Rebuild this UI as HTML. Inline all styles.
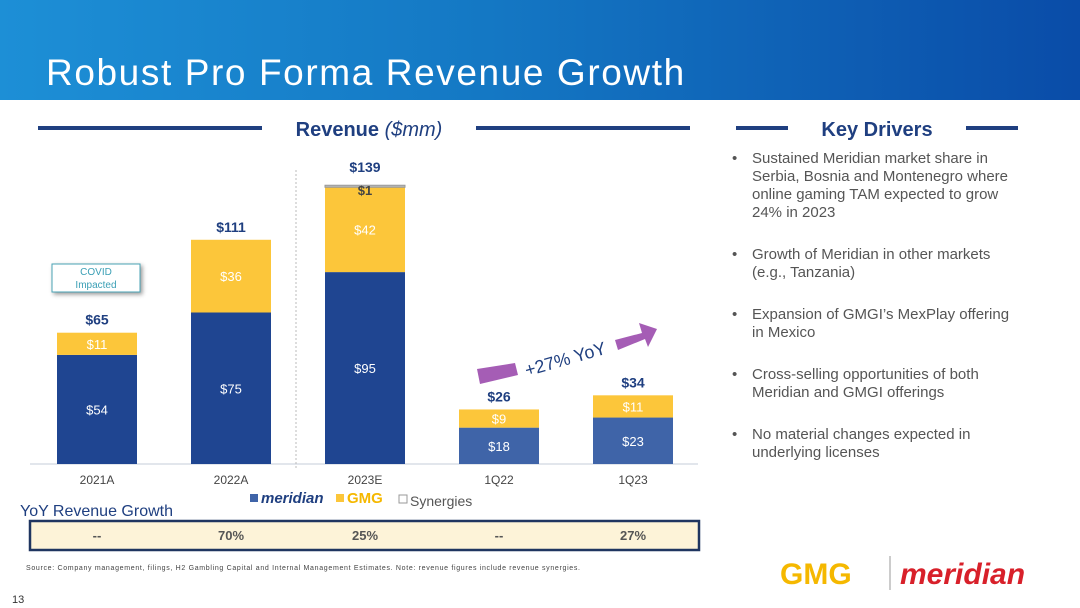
<!DOCTYPE html>
<html><head><meta charset="utf-8"><style>
body{margin:0;width:1080px;height:608px;overflow:hidden;background:#fff;font-family:"Liberation Sans",sans-serif;position:relative}
.hdr{position:absolute;left:0;top:0;width:1080px;height:100px;background:linear-gradient(90deg,#1d8fd6 0%,#1478c4 45%,#0a4ca8 100%)}
.title{position:absolute;left:46px;top:52px;color:#fff;font-size:37px;letter-spacing:1.6px}
.kd{position:absolute;left:732px;top:150px;width:292px;color:#555;font-size:15px;line-height:18px}
.kd div{position:relative;padding-left:20px;margin-bottom:24px}
.kd div:before{content:"•";position:absolute;left:0;top:0}
</style></head><body>
<div class="hdr"></div>
<div class="title">Robust Pro Forma Revenue Growth</div>
<div class="kd">
<div>Sustained Meridian market share in Serbia, Bosnia and Montenegro where online gaming TAM expected to grow 24% in 2023</div>
<div>Growth of Meridian in other markets (e.g., Tanzania)</div>
<div>Expansion of GMGI’s MexPlay offering in Mexico</div>
<div>Cross-selling opportunities of both Meridian and GMGI offerings</div>
<div>No material changes expected in underlying licenses</div>
</div>
<svg id="c" width="1080" height="608" style="position:absolute;left:0;top:0" font-family="Liberation Sans, sans-serif">
<g>
<rect x="38" y="126" width="224" height="4" fill="#1f3f80"/><rect x="476" y="126" width="214" height="4" fill="#1f3f80"/>
<text x="369" y="136" text-anchor="middle" font-size="20" font-weight="bold" fill="#1f3f80">Revenue <tspan font-style="italic" font-weight="normal">($mm)</tspan></text></g>
<g>
<rect x="736" y="126" width="52" height="4" fill="#1f3f80"/><rect x="966" y="126" width="52" height="4" fill="#1f3f80"/>
<text x="877" y="136" text-anchor="middle" font-size="20" font-weight="bold" fill="#1f3f80">Key Drivers</text></g>
<line x1="30" y1="464" x2="698" y2="464" stroke="#d8dde6" stroke-width="1.5"/>
<line x1="296" y1="170" x2="296" y2="470" stroke="#bbb" stroke-dasharray="2,2"/>
<g id="bars"></g>
<g>
<rect x="52" y="264" width="88" height="28" fill="#fff" stroke="#4aa3b5" style="filter:drop-shadow(2px 2px 2px #999)"/>
<text x="96" y="275" text-anchor="middle" font-size="10" fill="#3a9fb5">COVID</text>
<text x="96" y="288" text-anchor="middle" font-size="10" fill="#3a9fb5">Impacted</text></g>
<g>
<polygon points="477,369 515,363 518,375 480,384" fill="#a55db5"/>
<polygon points="615,340 642,333 639,323 657,329 648,347 645,339 618,350" fill="#a55db5"/>
<text x="567" y="365" transform="rotate(-16 567 365)" text-anchor="middle" font-size="18" fill="#1f3f80">+27% YoY</text></g>
<g>
<rect x="250" y="494" width="8" height="8" fill="#3f64a8"/><text x="261" y="503" font-size="15" font-weight="bold" font-style="italic" fill="#1f3f80">meridian</text>
<rect x="336" y="494" width="8" height="8" fill="#fcc63a"/><text x="347" y="503" font-size="15" font-weight="bold" fill="#f5b800">GMG</text>
<rect x="399" y="495" width="8" height="8" fill="#fff" stroke="#999"/><text x="410" y="506" font-size="14" fill="#555">Synergies</text></g>
<text x="20" y="516" font-size="16" fill="#1f3f80">YoY Revenue Growth</text>
<rect x="30" y="521" width="669" height="29" fill="#fdf3d8" stroke="#1f3560" stroke-width="2.5"/>
<g id="yoy"></g>
<text x="26" y="570" font-size="7" fill="#444" textLength="554">Source: Company management, filings, H2 Gambling Capital and Internal Management Estimates. Note: revenue figures include revenue synergies.</text>
<text x="12" y="603" font-size="11" fill="#333">13</text>
<g>
<text x="780" y="584" font-size="30" font-weight="bold" fill="#f5b800">GMG</text>
<line x1="890" y1="556" x2="890" y2="590" stroke="#999"/>
<text x="900" y="584" font-size="30" font-weight="bold" font-style="italic" fill="#d8202a">meridian</text></g>
</svg>
<script>
const categories=["2021A","2022A","2023E","1Q22","1Q23"];
const meridian=[54,75,95,18,23];
const gmg=[11,36,42,9,11];
const synergies=[0,0,1,0,0];
const totals=["$65","$111","$139","$26","$34"];
const yoyLabels=["--","70%","25%","--","27%"];
const base=464,k=2.02,bw=80;
const xc=i=>97+i*134;
const yv=v=>base-v*k;
const g=document.getElementById('bars'),NS="http://www.w3.org/2000/svg";
function mk(t,a,txt){const e=document.createElementNS(NS,t);for(const n in a)e.setAttribute(n,a[n]);if(txt!=null)e.textContent=txt;g.appendChild(e);return e;}
categories.forEach((c,i)=>{
 const q=i>=3;
 const m=meridian[i],y=gmg[i],s=synergies[i];
 let r=mk('rect',{x:xc(i)-bw/2,y:yv(m),width:bw,height:m*k,fill:q?'#3f64a8':'#1f4591'});
 
 
 r=mk('rect',{x:xc(i)-bw/2,y:yv(m+y),width:bw,height:y*k,fill:'#fcc63a'});
 
 
 if(s>0){r=mk('rect',{x:xc(i)-bw/2,y:yv(m+y+s),width:bw,height:s*k,fill:'#bbb',stroke:'#999'});
 
 
 mk('text',{x:xc(i),y:yv(m+y+s)+10,'text-anchor':'middle','font-size':13,'font-weight':'bold',fill:'#444'},'$'+s);}
 mk('text',{x:xc(i),y:yv(m/2)+5,'text-anchor':'middle','font-size':13,fill:'#fff'},'$'+m);
 mk('text',{x:xc(i),y:yv(m+y/2)+5,'text-anchor':'middle','font-size':13,fill:'#fff'},'$'+y);
 mk('text',{x:xc(i),y:yv(m+y+s)-(s>0?13:8),'text-anchor':'middle','font-size':14,'font-weight':'bold',fill:'#1f3f80'},totals[i]);
 const t=mk('text',{x:xc(i),y:484,'text-anchor':'middle','font-size':12,fill:'#444'},c);
 
 
 const yl=document.createElementNS(NS,'text');
 yl.setAttribute('x',xc(i));yl.setAttribute('y',540);yl.setAttribute('text-anchor','middle');
 yl.setAttribute('font-size',13);yl.setAttribute('font-weight','bold');yl.setAttribute('fill','#555');
 yl.textContent=yoyLabels[i];
 
 
 document.getElementById('yoy').appendChild(yl);
});
</script>
</body></html>
